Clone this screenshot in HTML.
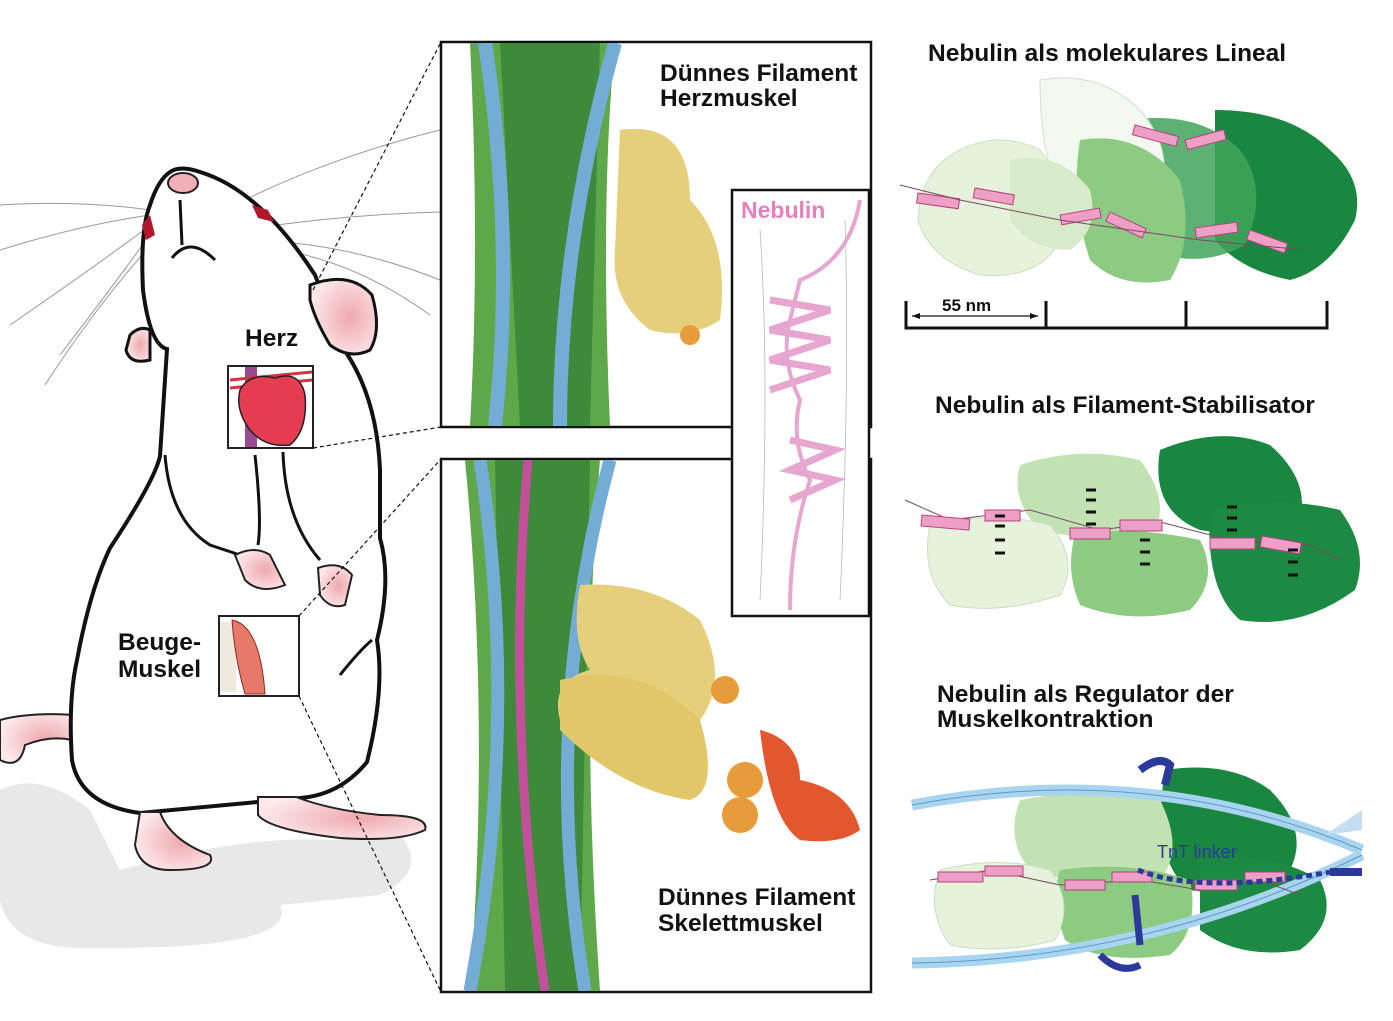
<!DOCTYPE html>
<html><head><meta charset="utf-8"><style>
body{margin:0;background:#fff;width:1393px;height:1021px;overflow:hidden}
svg{display:block}
text{font-family:"Liberation Sans",Arial,sans-serif;font-weight:bold;fill:#111}
</style></head><body>
<svg width="1393" height="1021" viewBox="0 0 1393 1021" xmlns="http://www.w3.org/2000/svg">
<defs>
<radialGradient id="pk" cx="0.6" cy="0.5" r="0.6"><stop offset="0" stop-color="#eea9ae"/><stop offset="1" stop-color="#fde8ea"/></radialGradient>
</defs>
<!-- shadow -->
<path d="M0,790 Q40,770 90,810 L120,870 Q240,835 330,840 L400,835 Q430,870 380,895 L280,905 Q300,950 90,948 Q10,950 0,900Z" fill="#e8e8e8"/>
<!-- whiskers -->
<g stroke="#999" stroke-width="1" fill="none">
<path d="M0,205 Q80,200 150,210"/><path d="M0,250 Q80,225 150,215"/><path d="M10,325 Q90,270 155,222"/><path d="M60,355 Q110,290 155,228"/><path d="M45,385 Q100,300 160,235"/>
<path d="M225,210 Q320,160 440,130"/><path d="M232,232 Q330,215 440,212"/><path d="M238,240 Q340,240 440,280"/><path d="M240,245 Q340,250 430,315"/>
</g>
<!-- tail -->
<path d="M75,715 Q30,712 0,720 L0,760 Q20,770 25,745 Q50,735 72,740Z" fill="url(#pk)" stroke="#222" stroke-width="2"/>
<!-- body -->
<path d="M170,172 Q180,165 200,172 Q260,190 315,275 L347,354 Q377,400 380,470 L380,538 Q392,580 377,640 Q385,690 367,762 Q340,795 300,798 L140,813 Q80,805 72,760 Q68,700 77,660 Q90,590 110,548 Q155,480 160,456 L167,349 Q150,345 143,290 Q140,230 150,205 Q158,180 170,172Z" fill="#fff" stroke="#111" stroke-width="4"/>
<!-- ear -->
<path d="M310,285 Q350,270 372,295 Q382,330 370,350 Q350,360 330,345 Q315,320 310,300Z" fill="url(#pk)" stroke="#111" stroke-width="3"/>
<path d="M130,335 Q140,325 150,330 L150,360 Q130,365 126,350Z" fill="url(#pk)" stroke="#111" stroke-width="3"/>
<!-- nose, eyes -->
<ellipse cx="183" cy="183" rx="15" ry="10" fill="#f0b0b5" stroke="#222" stroke-width="2"/>
<path d="M142,225 L150,215 L155,235 L146,240Z" fill="#b0182a"/>
<path d="M252,205 L268,210 L274,222 L258,218Z" fill="#b0182a"/>
<path d="M180,200 L182,245" stroke="#111" stroke-width="3" fill="none"/>
<path d="M172,258 Q190,235 215,260" stroke="#111" stroke-width="3" fill="none"/>
<!-- arms -->
<path d="M165,455 Q170,520 210,545 L240,555" stroke="#111" stroke-width="3" fill="none"/>
<path d="M255,455 Q262,520 258,545" stroke="#111" stroke-width="3" fill="none"/>
<path d="M283,452 Q285,520 320,560" stroke="#111" stroke-width="3" fill="none"/>
<path d="M235,555 Q255,545 270,555 L285,585 Q260,595 245,580Z" fill="url(#pk)" stroke="#222" stroke-width="2"/>
<path d="M318,568 Q340,560 352,575 L345,605 Q330,610 320,595Z" fill="url(#pk)" stroke="#222" stroke-width="2"/>
<path d="M340,675 Q360,650 372,640" stroke="#111" stroke-width="3" fill="none"/>
<!-- feet -->
<path d="M140,812 L160,812 Q170,840 210,855 Q218,870 170,870 Q140,870 135,845Z" fill="url(#pk)" stroke="#222" stroke-width="2"/>
<path d="M258,797 L296,797 Q330,810 380,815 Q430,815 425,830 Q400,842 340,838 Q270,830 258,815Z" fill="url(#pk)" stroke="#222" stroke-width="2"/>
<!-- labels -->
<text x="245" y="346" font-size="24.5">Herz</text>
<text x="118" y="650" font-size="24.5">Beuge-</text>
<text x="118" y="677" font-size="24.5">Muskel</text>
<!-- heart inset -->
<rect x="228" y="366" width="85" height="82" fill="#fff" stroke="#222" stroke-width="2"/>
<rect x="245" y="367" width="12" height="80" fill="#9a4a90"/>
<path d="M230,380 L312,372 M230,388 L312,380" stroke="#d3343f" stroke-width="3"/>
<path d="M240,390 Q250,372 275,378 Q300,370 305,395 Q308,430 290,445 Q265,448 250,430 Q235,410 240,390Z" fill="#e43d52" stroke="#222" stroke-width="1.5"/>
<!-- muscle inset -->
<rect x="219" y="616" width="80" height="80" fill="#fff" stroke="#222" stroke-width="2"/>
<rect x="220" y="622" width="16" height="70" fill="#eee8dd"/>
<path d="M232,620 Q260,625 265,694 L245,694 Q235,660 232,620Z" fill="#e7796a" stroke="#8a2a20" stroke-width="1"/>
<!-- dashed lines -->
<g stroke="#111" stroke-width="1.2" stroke-dasharray="4,3" fill="none">
<path d="M313,290 L441,42"/><path d="M313,448 L441,427"/><path d="M299,616 L441,459"/><path d="M299,696 L441,992"/>
</g>
<!-- top panel -->
<rect x="441" y="42" width="430" height="385" fill="#fff" stroke="#111" stroke-width="2.5"/>
<g clip-path="url(#c1)">
<clipPath id="c1"><rect x="442" y="43" width="428" height="383"/></clipPath>
<path d="M470,43 L615,43 Q600,200 610,426 L470,426 Q480,250 470,43Z" fill="#5fa84a"/>
<path d="M500,43 L600,43 L590,426 L520,426Z" fill="#3f8a3a"/>
<path d="M485,43 Q515,240 495,426" stroke="#74acd6" stroke-width="14" fill="none"/>
<path d="M615,43 Q560,240 560,426" stroke="#74acd6" stroke-width="14" fill="none"/>
<path d="M620,130 Q690,120 690,200 Q730,240 720,320 Q690,340 650,330 Q610,300 615,250Z" fill="#e6cf7a"/>
<circle cx="690" cy="335" r="10" fill="#e79b3a"/>
</g>
<text x="660" y="81" font-size="24.5">Dünnes Filament</text>
<text x="660" y="106" font-size="24.5">Herzmuskel</text>
<!-- bottom panel -->
<rect x="441" y="459" width="430" height="533" fill="#fff" stroke="#111" stroke-width="2.5"/>
<g clip-path="url(#c2)">
<clipPath id="c2"><rect x="442" y="460" width="428" height="531"/></clipPath>
<path d="M465,460 L600,460 Q580,700 600,991 L470,991 Q490,720 465,460Z" fill="#5fa84a"/>
<path d="M495,460 L590,460 L580,991 L505,991Z" fill="#3f8a3a"/>
<path d="M528,460 Q505,720 545,991" stroke="#c3509b" stroke-width="9" fill="none"/>
<path d="M480,460 Q520,720 470,991" stroke="#74acd6" stroke-width="13" fill="none"/>
<path d="M610,460 Q540,720 585,991" stroke="#74acd6" stroke-width="13" fill="none"/>
<path d="M580,585 Q650,580 700,620 Q730,680 700,720 Q640,740 600,720 L560,720 Q550,680 590,670 Q570,640 580,585Z" fill="#e6cf7a"/>
<path d="M560,680 Q640,660 700,720 Q720,790 690,800 Q620,790 560,730Z" fill="#e2c66a"/>
<circle cx="745" cy="780" r="18" fill="#e79b3a"/><circle cx="740" cy="815" r="18" fill="#e79b3a"/>
<circle cx="725" cy="690" r="14" fill="#e79b3a"/>
<path d="M760,730 Q800,740 800,780 Q850,790 860,830 Q840,845 800,840 Q770,820 760,730Z" fill="#e2572e"/>
</g>
<text x="658" y="905" font-size="24.5">Dünnes Filament</text>
<text x="658" y="931" font-size="24.5">Skelettmuskel</text>
<!-- nebulin inset -->
<rect x="732" y="190" width="137" height="426" fill="#fff" stroke="#111" stroke-width="2.5"/>
<path d="M860,200 Q850,260 800,280 L790,320 Q780,360 800,400 Q790,440 810,480 Q790,540 790,610" stroke="#e6a6cf" stroke-width="4" fill="none"/>
<path d="M770,300 L830,310 L770,330 L830,340 L770,360 L830,370 L770,390" stroke="#e6a6cf" stroke-width="7" fill="none"/>
<path d="M790,440 L835,450 L790,470 L835,480 L790,500" stroke="#e6a6cf" stroke-width="7" fill="none"/>
<path d="M760,230 Q770,380 760,600" stroke="#bbb" stroke-width="0.8" fill="none"/>
<path d="M845,220 Q850,380 840,600" stroke="#bbb" stroke-width="0.8" fill="none"/>
<text x="741" y="218" font-size="23" style="fill:#e67fbb">Nebulin</text>
<!-- right section 1 -->
<text x="928" y="61" font-size="24.5">Nebulin als molekulares Lineal</text>
<path d="M1215,110 Q1290,110 1330,150 Q1365,180 1355,220 Q1330,270 1290,280 Q1240,270 1215,240Z" fill="#1a8740"/>
<path d="M1130,120 Q1200,110 1240,150 Q1270,190 1245,245 Q1200,270 1150,250 Q1120,200 1130,120Z" fill="#41a55a" opacity="0.85"/>
<path d="M1040,80 Q1100,70 1140,110 Q1175,150 1160,200 Q1120,230 1070,210 Q1040,170 1040,80Z" fill="#f2f8ef" stroke="#cfe2c8"/>
<path d="M1080,140 Q1140,130 1180,180 Q1195,240 1170,280 Q1120,290 1090,260 Q1070,200 1080,140Z" fill="#8dcb82"/>
<path d="M960,150 Q1000,130 1040,150 Q1070,190 1060,240 Q1040,280 980,275 Q930,260 918,220 Q920,170 960,150Z" fill="#e6f2dc" stroke="#c9dfc0"/>
<path d="M1010,160 Q1060,150 1090,190 Q1100,230 1070,250 Q1030,250 1010,220Z" fill="#d7ebcb"/>
<g fill="#ee9fc6" stroke="#b7407f" stroke-width="1">
<rect x="918" y="193" width="42" height="10" transform="rotate(8 918 193)"/>
<rect x="975" y="188" width="40" height="10" transform="rotate(10 975 188)"/>
<rect x="1060" y="215" width="40" height="10" transform="rotate(-10 1060 215)"/>
<rect x="1110" y="212" width="40" height="10" transform="rotate(25 1110 212)"/>
<rect x="1195" y="228" width="42" height="10" transform="rotate(-8 1195 228)"/>
<rect x="1250" y="230" width="40" height="10" transform="rotate(20 1250 230)"/>
<rect x="1135" y="125" width="45" height="10" transform="rotate(15 1135 125)"/>
<rect x="1185" y="140" width="40" height="10" transform="rotate(-15 1185 140)"/>
</g>
<path d="M900,185 L960,200 L1060,220 L1130,230 L1200,240 L1305,250" stroke="#7a4a60" stroke-width="1" fill="none"/>
<g stroke="#111" stroke-width="3" fill="none">
<path d="M906,301 L906,328 L1327,328 L1327,301"/><path d="M1046,301 L1046,328"/><path d="M1186,301 L1186,328"/>
</g>
<path d="M912,316 L1038,316" stroke="#111" stroke-width="1.2"/>
<path d="M912,316 l8,-3 v6z M1038,316 l-8,-3 v6z" fill="#111"/>
<text x="942" y="311" font-size="17">55 nm</text>
<!-- right section 2 -->
<text x="935" y="413" font-size="24.5">Nebulin als Filament-Stabilisator</text>
<path d="M1160,450 Q1220,425 1270,445 Q1310,480 1300,520 Q1260,540 1200,530 Q1150,510 1160,450Z" fill="#1a8740"/>
<path d="M1210,510 Q1280,495 1340,510 Q1370,550 1355,590 Q1300,630 1240,620 Q1205,590 1210,510Z" fill="#1c8a42"/>
<path d="M1020,465 Q1080,445 1140,460 Q1170,500 1155,530 Q1100,545 1040,530 Q1010,500 1020,465Z" fill="#c2e2b4"/>
<path d="M1075,535 Q1130,525 1200,540 Q1220,580 1190,610 Q1130,625 1080,605 Q1065,570 1075,535Z" fill="#8dcb82"/>
<path d="M930,525 Q990,510 1050,525 Q1080,560 1060,595 Q1000,615 950,605 Q920,575 930,525Z" fill="#e6f2dc" stroke="#c9dfc0"/>
<path d="M905,500 L950,520 L1030,510 L1100,530 L1160,522 L1230,540 L1310,545 L1340,560" stroke="#7a4a60" stroke-width="1" fill="none"/>
<g fill="#ee9fc6" stroke="#b7407f" stroke-width="1">
<rect x="922" y="515" width="48" height="11" transform="rotate(5 922 515)"/>
<rect x="985" y="510" width="35" height="11"/>
<rect x="1070" y="528" width="40" height="11"/>
<rect x="1120" y="520" width="42" height="11"/>
<rect x="1210" y="538" width="45" height="11"/>
<rect x="1262" y="536" width="40" height="11" transform="rotate(10 1262 536)"/>
</g>
<g stroke="#111" stroke-width="3">
<path d="M995,516h10M995,526h10M995,540h10M995,553h10"/>
<path d="M1086,490h10M1086,500h10M1086,512h10M1086,524h10"/>
<path d="M1140,540h10M1140,552h10M1140,564h10"/>
<path d="M1227,507h10M1227,518h10M1227,530h10"/>
<path d="M1288,550h10M1288,562h10M1288,575h10"/>
</g>
<!-- right section 3 -->
<text x="937" y="702" font-size="24.5">Nebulin als Regulator der</text>
<text x="937" y="727" font-size="24.5">Muskelkontraktion</text>
<path d="M1165,770 Q1230,760 1270,790 Q1310,830 1290,870 Q1250,900 1190,890 Q1150,860 1165,770Z" fill="#1a8740"/>
<path d="M1200,860 Q1270,850 1320,880 Q1340,920 1300,950 Q1240,960 1200,930Z" fill="#1c8a42"/>
<path d="M1020,800 Q1100,785 1160,800 Q1185,850 1160,880 Q1090,890 1030,870 Q1005,840 1020,800Z" fill="#c2e2b4"/>
<path d="M1060,870 Q1130,860 1190,880 Q1200,930 1170,955 Q1100,965 1065,940 Q1050,900 1060,870Z" fill="#8dcb82"/>
<path d="M940,870 Q1000,855 1050,870 Q1075,905 1055,940 Q1000,955 950,945 Q925,910 940,870Z" fill="#e6f2dc" stroke="#c9dfc0"/>
<path d="M912,805 Q1150,760 1362,850" stroke="#a9d4ef" stroke-width="11" fill="none"/>
<path d="M912,963 Q1150,960 1362,855" stroke="#a9d4ef" stroke-width="11" fill="none"/>
<path d="M912,805 Q1150,760 1362,850 M912,963 Q1150,960 1362,855" stroke="#5a9ac6" stroke-width="1" fill="none"/>
<path d="M1325,835 L1362,810 L1362,830 Z" fill="#c5ddf0"/>
<path d="M930,880 L990,870 L1060,885 L1140,880 L1200,890 L1260,880 L1300,895" stroke="#7a4a60" stroke-width="1" fill="none"/>
<g fill="#ee9fc6" stroke="#b7407f" stroke-width="1">
<rect x="938" y="872" width="45" height="10"/><rect x="985" y="866" width="38" height="10"/>
<rect x="1065" y="880" width="40" height="10"/><rect x="1112" y="872" width="40" height="10"/>
<rect x="1195" y="880" width="42" height="10"/><rect x="1245" y="872" width="40" height="10"/>
</g>
<path d="M1138,870 Q1200,895 1330,872" stroke="#2b3a9a" stroke-width="5" stroke-dasharray="6,4" fill="none"/>
<path d="M1330,872 L1362,872" stroke="#2b3a9a" stroke-width="8"/>
<path d="M1140,770 Q1160,755 1170,765 L1165,785" stroke="#2b3a9a" stroke-width="8" fill="none"/>
<path d="M1135,895 L1140,945 M1100,955 Q1120,975 1140,965" stroke="#2b3a9a" stroke-width="7" fill="none"/>
<text x="1157" y="858" font-size="18" style="fill:#2b3a9a;font-weight:normal">TnT linker</text>
</svg>
</body></html>
